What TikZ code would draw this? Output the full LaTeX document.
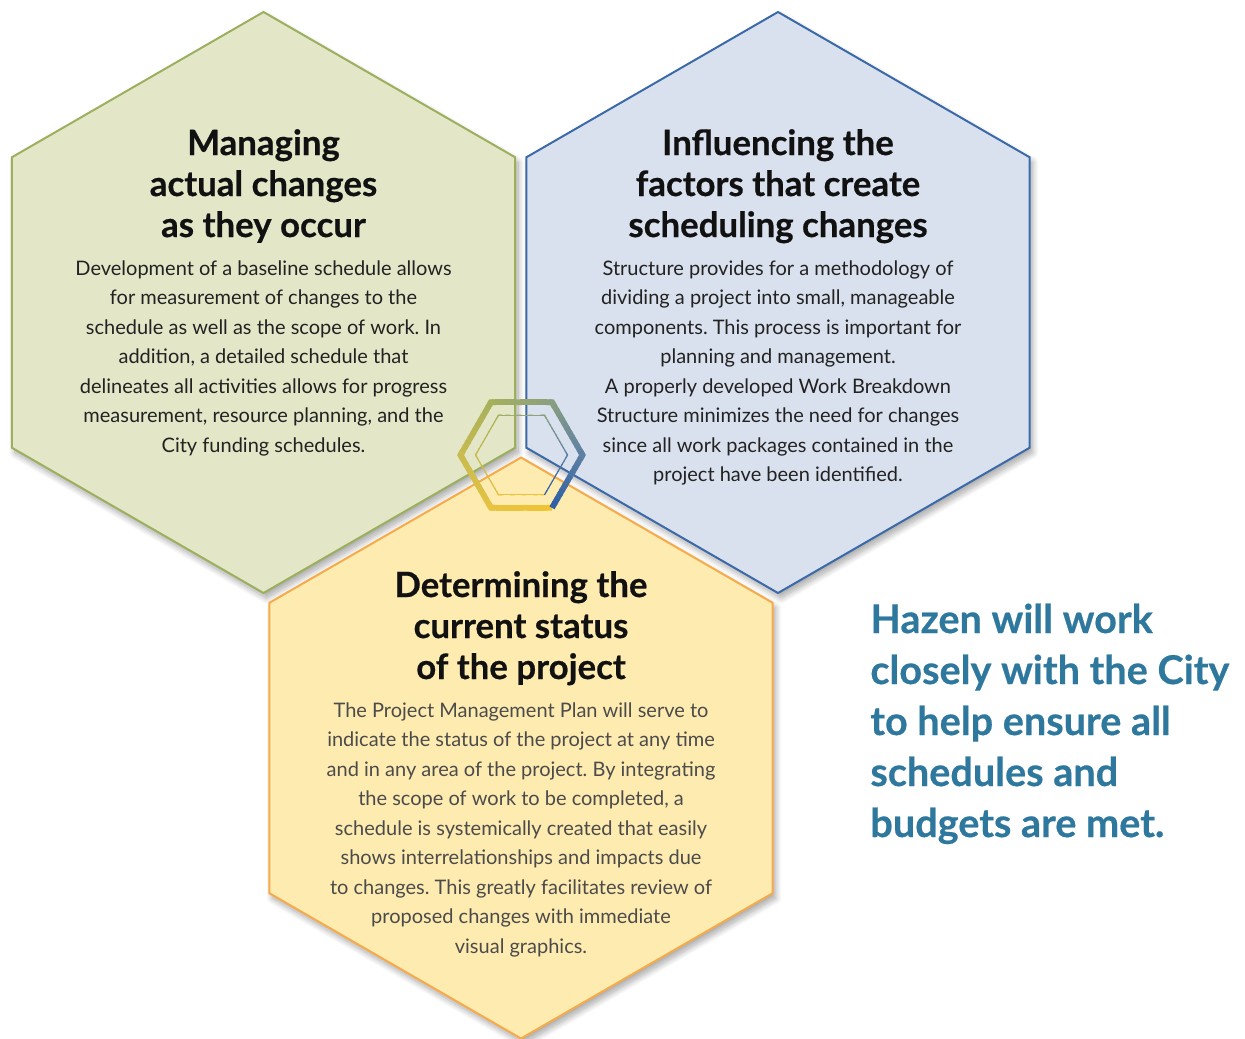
\documentclass[tikz,border=0pt]{standalone}
\usepackage{fontspec}
\setmainfont{Lato}
\newfontfamily\heavyfont[FakeBold=0.5]{Lato Bold}
\usetikzlibrary{calc,shadows.blur}
\frenchspacing
\definecolor{gfill}{HTML}{E3E7C7}
\definecolor{gline}{HTML}{9CAF5E}
\definecolor{bfill}{HTML}{DAE1EE}
\definecolor{bline}{HTML}{3C6AA9}
\definecolor{yfill}{HTML}{FEEBB0}
\definecolor{yline}{HTML}{F6AA4A}
\definecolor{hazen}{HTML}{2E789E}
\definecolor{titlec}{HTML}{111111}
\definecolor{bodyc}{HTML}{222222}
\definecolor{bodyy}{HTML}{4B4B4B}
\definecolor{hA}{HTML}{F2C431}
\definecolor{hB}{HTML}{E6C341}
\definecolor{hC}{HTML}{C8BB4F}
\definecolor{hD}{HTML}{A7B15B}
\definecolor{hE}{HTML}{8A9F80}
\definecolor{hF}{HTML}{5F80A3}
\definecolor{hG}{HTML}{2D5FA5}
\tikzset{
  hexshadow/.style={blur shadow={shadow xshift=1.5pt, shadow yshift=-2.5pt, shadow blur radius=3pt, shadow blur steps=12, shadow opacity=35}},
  hexg/.style={fill=gfill, draw=gline, line width=1pt, line join=miter, hexshadow},
  hexb/.style={fill=bfill, draw=bline, line width=1pt, line join=miter, hexshadow},
  hexy/.style={fill=yfill, draw=yline, line width=1pt, line join=miter, hexshadow},
  titletext/.style={font=\heavyfont\fontsize{17.4}{20}\selectfont, text=titlec, inner sep=0pt, anchor=base},
  bodytext/.style={font=\fontsize{10}{12}\selectfont, text=bodyc, inner sep=0pt, anchor=base},
  bodytexty/.style={bodytext, text=bodyy},
  hazentext/.style={font=\heavyfont\fontsize{19.8}{24}\selectfont, text=hazen, inner sep=0pt, anchor=base west},
}
\newcommand\hexagonpath{(90:290.5) -- (30:290.5) -- (-30:290.5) -- (-90:290.5) -- (-150:290.5) -- (150:290.5) -- cycle}
\newcommand\ringdraw[2]{%
  \foreach \a/\ca/\cb in {60/hA/hB, 120/hB/hC, 180/hC/hD, 240/hD/hE, 300/hE/hF, 360/hF/hG}{
    \foreach \k in {1,...,12}{
      \pgfmathsetmacro\p{100-(\k-0.5)/12*100}
      \pgfmathsetmacro\sa{max(0,(\k-1)/12-0.02)}
      \pgfmathsetmacro\sb{\k/12}
      \draw[line width=#2, color=\ca!\p!\cb, line cap=butt]
        ($(\a:#1)!\sa!({\a+60}:#1)$) -- ($(\a:#1)!\sb!({\a+60}:#1)$);
    }
    \ifnum\a>60
      \draw[line width=#2, color=\ca, line join=miter, line cap=butt]
        ($(\a:#1)!0.06!({\a-60}:#1)$) -- (\a:#1) -- ($(\a:#1)!0.06!({\a+60}:#1)$);
    \fi
  }
}
\begin{document}
\begin{tikzpicture}[x=0.5pt,y=-0.5pt]
\useasboundingbox (0,0) rectangle (1245,1038);
% hexagons
\begin{scope}[shift={(263.5,302.5)}]
  \path[hexg] \hexagonpath;
\end{scope}
\begin{scope}[shift={(778,302.5)}]
  \path[hexb] \hexagonpath;
\end{scope}
\begin{scope}[shift={(521,748)}]
  \path[hexy] \hexagonpath;
\end{scope}
% central ring logo
\begin{scope}[shift={(521.5,455)}]
  \ringdraw{61}{2.9pt}
  \ringdraw{46}{0.6pt}
\end{scope}
% green texts
\foreach \t [count=\i] in {Managing, actual changes, as they occur}
  \node[titletext] (gt\i) at (263.5,{155+41*(\i-1)}) {\t};
\foreach \t [count=\i] in {Development of a baseline schedule allows, for measurement of changes to the, schedule as well as the scope of work. In, {addition, a detailed schedule that}, delineates all activities allows for progress, {measurement, resource planning, and the}, City funding schedules.}
  \node[bodytext] (gb\i) at (263.5,{275+29.5*(\i-1)}) {\t};
% blue texts
\foreach \t [count=\i] in {Influencing the, factors that create, scheduling changes}
  \node[titletext] (bt\i) at (778,{155+41*(\i-1)}) {\t};
\foreach \t [count=\i] in {Structure provides for a methodology of, {dividing a project into small, manageable}, components. This process is important for, planning and management., A properly developed Work Breakdown, Structure minimizes the need for changes, since all work packages contained in the, project have been identified.}
  \node[bodytext] (bb\i) at (778,{275+29.5*(\i-1)}) {\t};
% yellow texts
\foreach \t [count=\i] in {Determining the, current status, of the project}
  \node[titletext] (yt\i) at (521,{597+41*(\i-1)}) {\t};
\foreach \t [count=\i] in {The Project Management Plan will serve to, indicate the status of the project at any time, and in any area of the project. By integrating, {the scope of work to be completed, a}, schedule is systemically created that easily, shows interrelationships and impacts due, to changes. This greatly facilitates review of, proposed changes with immediate, visual graphics.}
  \node[bodytexty] (yb\i) at (521,{717+29.5*(\i-1)}) {\t};
% Hazen statement
\foreach \t [count=\i] in {Hazen will work, closely with the City, to help ensure all, schedules and, budgets are met.}
  \node[hazentext] (hz\i) at (870,{633+51*(\i-1)}) {\t};
\end{tikzpicture}
\end{document}
